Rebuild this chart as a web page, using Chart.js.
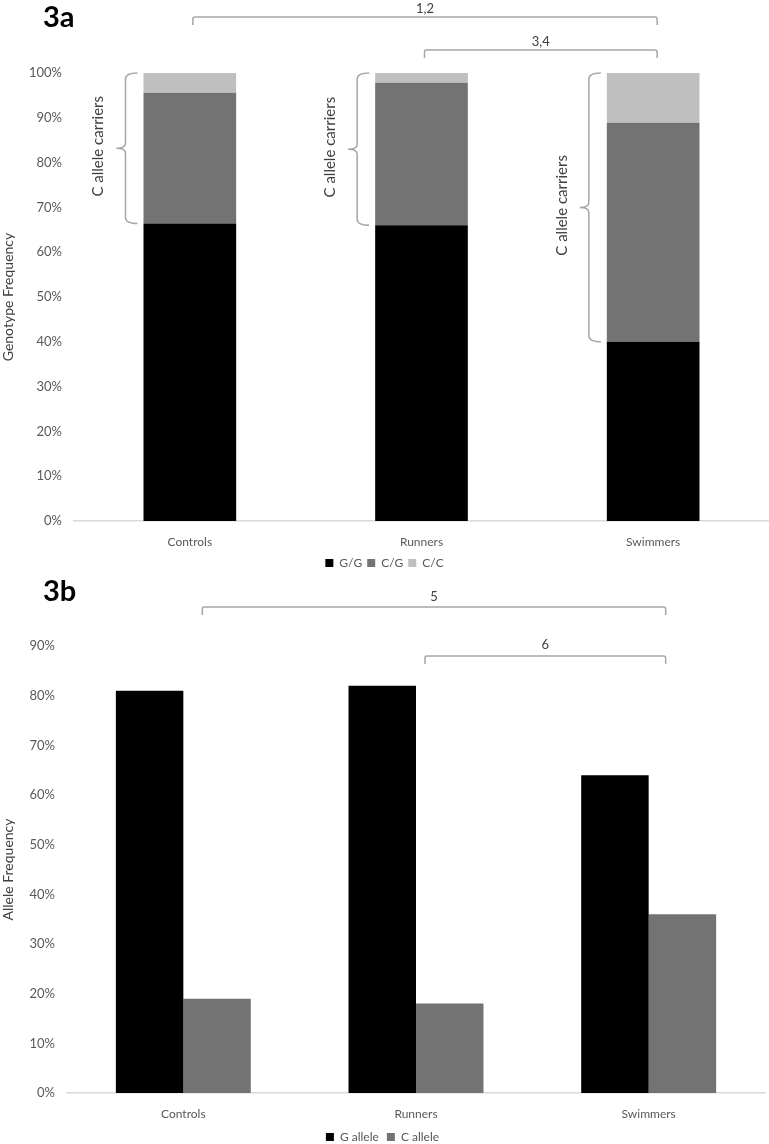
<!DOCTYPE html>
<html>
<head>
<meta charset="utf-8">
<script src="https://cdn.jsdelivr.net/npm/chart.js@4"></script>
<style>
  html, body { margin:0; padding:0; background:#fff; overflow:hidden; }
  .box { position:absolute; left:0; width:769px; }
  #boxA { top:0; height:580px; }
  #boxB { top:580px; height:573px; }
</style>
</head>
<body>
<div class="box" id="boxA"><canvas id="genotypeChart"></canvas></div>
<div class="box" id="boxB"><canvas id="alleleChart"></canvas></div>
<script>
const groups = ['Controls', 'Runners', 'Swimmers'];

// 3a genotype frequency (%)
const genotypeGG = [66.4, 66.0, 40.0];
const genotypeCG = [29.2, 31.8, 48.9];
const genotypeCC = [4.4, 2.2, 11.1];

// 3b allele frequency (%)
const alleleG = [81, 82, 64];
const alleleC = [19, 18, 36];

const bracketsA = [
  { from:0, to:2, label:'1,2' },
  { from:1, to:2, label:'3,4' }
];
const bracketsB = [
  { from:0, to:2, label:'5' },
  { from:1, to:2, label:'6' }
];

const FONT = 'Lato, "Open Sans", sans-serif';
const TICK = '#595959';
const LINE = '#a6a6a6';

Chart.defaults.font.family = FONT;
Chart.defaults.color = TICK;

// ==========================
// DRAW HELPERS
// ==========================
function drawBracket(ctx, x1, x2, y, label, textY){
  ctx.save();
  ctx.strokeStyle = LINE;
  ctx.lineWidth = 1.5;
  ctx.beginPath();
  ctx.moveTo(x1, y + 8);
  ctx.lineTo(x1, y + 2);
  ctx.quadraticCurveTo(x1, y, x1 + 2, y);
  ctx.lineTo(x2 - 2, y);
  ctx.quadraticCurveTo(x2, y, x2, y + 2);
  ctx.lineTo(x2, y + 8);
  ctx.stroke();
  ctx.fillStyle = '#404040';
  ctx.font = '13px ' + FONT;
  ctx.textAlign = 'center';
  ctx.textBaseline = 'middle';
  ctx.fillText(label, (x1 + x2) / 2, textY);
  ctx.restore();
}

function drawBrace(ctx, xb, y1, y2, textX){
  const ym = (y1 + y2) / 2;
  ctx.save();
  ctx.strokeStyle = LINE;
  ctx.lineWidth = 1.5;
  ctx.beginPath();
  ctx.moveTo(xb + 12, y1);
  ctx.quadraticCurveTo(xb, y1, xb, y1 + 6);
  ctx.lineTo(xb, ym - 5);
  ctx.quadraticCurveTo(xb, ym, xb - 9, ym);
  ctx.quadraticCurveTo(xb, ym, xb, ym + 5);
  ctx.lineTo(xb, y2 - 6);
  ctx.quadraticCurveTo(xb, y2, xb + 12, y2);
  ctx.stroke();
  ctx.translate(textX, ym - 2);
  ctx.rotate(-Math.PI / 2);
  ctx.fillStyle = '#404040';
  ctx.font = '15px ' + FONT;
  ctx.textAlign = 'center';
  ctx.textBaseline = 'middle';
  ctx.fillText('C allele carriers', 0, 0);
  ctx.restore();
}

function drawPanelLabel(ctx, text, y){
  ctx.save();
  ctx.fillStyle = '#000';
  ctx.font = 'bold 29px ' + FONT;
  ctx.textAlign = 'left';
  ctx.textBaseline = 'middle';
  ctx.fillText(text, 43, y);
  ctx.restore();
}

const notesA = {
  id:'notesA',
  afterDraw(chart){
    const ctx = chart.ctx, x = chart.scales.x, y = chart.scales.y;
    drawPanelLabel(ctx, '3a', 18);
    const levels = [[17, 9], [50, 42]];
    bracketsA.forEach((b, i) => {
      drawBracket(ctx, x.getPixelForValue(b.from) + 3, x.getPixelForValue(b.to) + 4, levels[i][0], b.label, levels[i][1]);
    });
    const bars = chart.getDatasetMeta(0).data;
    bars.forEach((bar, i) => {
      const left = bar.x - bar.width / 2;
      drawBrace(ctx, left - 18, y.getPixelForValue(100), y.getPixelForValue(genotypeGG[i]), left - 45);
    });
  }
};

const notesB = {
  id:'notesB',
  afterDraw(chart){
    const ctx = chart.ctx, x = chart.scales.x;
    drawPanelLabel(ctx, '3b', 12);
    const levels = [[27, 17], [76, 65]];
    const offs = [[19, 17], [9, 17]];
    bracketsB.forEach((b, i) => {
      drawBracket(ctx, x.getPixelForValue(b.from) + offs[i][0], x.getPixelForValue(b.to) + offs[i][1], levels[i][0], b.label, levels[i][1]);
    });
  }
};

// ==========================
// BASE OPTIONS
// ==========================
function baseOptions(opts){
  return {
    responsive: true,
    maintainAspectRatio: false,
    animation: false,
    layout: { padding: opts.padding },
    scales: {
      x: {
        stacked: opts.stacked,
        grid: { display:false, drawTicks:false },
        border: { color:'#d9d9d9', width:1.5 },
        ticks: { color:TICK, font:{ size:12 }, padding:14 },
        afterFit: s => { s.height = opts.xHeight; }
      },
      y: {
        stacked: opts.stacked,
        min: 0,
        max: opts.yMax,
        grid: { display:false, drawTicks:false },
        border: { display:false },
        ticks: {
          stepSize: 10,
          color: TICK,
          font: { size:13 },
          padding: 12,
          callback: v => v + '%'
        },
        title: {
          display: true,
          text: opts.yTitle,
          color: '#404040',
          font: { size:14 },
          padding: 0
        },
        afterFit: s => { s.width = opts.yWidth; }
      }
    },
    plugins: {
      legend: {
        position: 'bottom',
        labels: {
          color: TICK,
          font: { size:12 },
          boxWidth: 8,
          boxHeight: 8,
          padding: opts.legendPad
        }
      },
      tooltip: { enabled:false }
    }
  };
}

new Chart(document.getElementById('genotypeChart'), {
  type: 'bar',
  data: {
    labels: groups,
    datasets: [
      { label:'G/G', data:genotypeGG, backgroundColor:'#000000', categoryPercentage:0.8, barPercentage:0.5 },
      { label:'C/G', data:genotypeCG, backgroundColor:'#737373', categoryPercentage:0.8, barPercentage:0.5 },
      { label:'C/C', data:genotypeCC, backgroundColor:'#bfbfbf', categoryPercentage:0.8, barPercentage:0.5 }
    ]
  },
  options: baseOptions({
    padding: { top:73, left:0, right:0, bottom:1 },
    stacked: true, yMax: 100, yTitle: 'Genotype Frequency',
    yWidth: 74, xHeight: 31, legendPad: 5
  }),
  plugins: [notesA]
});

new Chart(document.getElementById('alleleChart'), {
  type: 'bar',
  data: {
    labels: groups,
    datasets: [
      { label:'G allele', data:alleleG, backgroundColor:'#000000', categoryPercentage:0.58, barPercentage:1.0 },
      { label:'C allele', data:alleleC, backgroundColor:'#737373', categoryPercentage:0.58, barPercentage:1.0 }
    ]
  },
  options: baseOptions({
    padding: { top:66, left:0, right:4, bottom:0 },
    stacked: false, yMax: 90, yTitle: 'Allele Frequency',
    yWidth: 67, xHeight: 30, legendPad: 8
  }),
  plugins: [notesB]
});
</script>
</body>
</html>
